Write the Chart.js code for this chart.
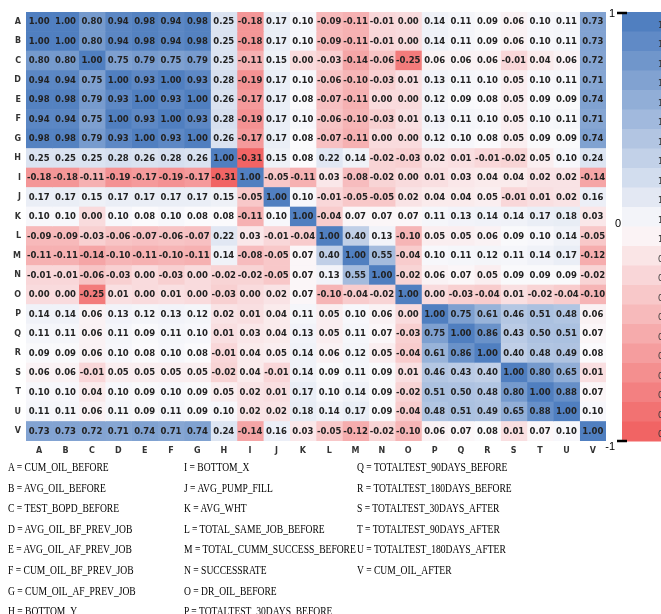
<!DOCTYPE html>
<html>
<head>
<meta charset="utf-8">
<script src="https://cdn.jsdelivr.net/npm/chart.js@4"></script>
<style>
  body { margin: 0; background: #fff; }
  #wrap { position: relative; width: 661px; height: 614px; overflow: hidden; }
  #legend { position: absolute; left: 0; top: 457px; width: 661px; }
  .col { position: absolute; top: 0; white-space: nowrap;
         font-family: "Liberation Serif", "Times New Roman", serif; font-size: 13.3px;
         line-height: 20.6px; color: #000; transform: scaleX(0.72); transform-origin: left top; }
</style>
</head>
<body>
<div id="wrap">
  <canvas id="heat" width="661" height="460"></canvas>
  <div id="legend"></div>
</div>
<script>
// Variable codes (rows and columns)
const rowLabels = ['A','B','C','D','E','F','G','H','I','J','K','L','M','N','O','P','Q','R','S','T','U','V'];
const colLabels = rowLabels;

// Variable names shown under the chart
const varNames = ['CUM_OIL_BEFORE','AVG_OIL_BEFORE','TEST_BOPD_BEFORE','AVG_OIL_BF_PREV_JOB',
  'AVG_OIL_AF_PREV_JOB','CUM_OIL_BF_PREV_JOB','CUM_OIL_AF_PREV_JOB','BOTTOM_Y','BOTTOM_X',
  'AVG_PUMP_FILL','AVG_WHT','TOTAL_SAME_JOB_BEFORE','TOTAL_CUMM_SUCCESS_BEFORE','SUCCESSRATE',
  'DR_OIL_BEFORE','TOTALTEST_30DAYS_BEFORE','TOTALTEST_90DAYS_BEFORE','TOTALTEST_180DAYS_BEFORE',
  'TOTALTEST_30DAYS_AFTER','TOTALTEST_90DAYS_AFTER','TOTALTEST_180DAYS_AFTER','CUM_OIL_AFTER'];

// Correlation values, one array per row
const rowA = [1.00,1.00,0.80,0.94,0.98,0.94,0.98,0.25,-0.18,0.17,0.10,-0.09,-0.11,-0.01,0.00,0.14,0.11,0.09,0.06,0.10,0.11,0.73];
const rowB = [1.00,1.00,0.80,0.94,0.98,0.94,0.98,0.25,-0.18,0.17,0.10,-0.09,-0.11,-0.01,0.00,0.14,0.11,0.09,0.06,0.10,0.11,0.73];
const rowC = [0.80,0.80,1.00,0.75,0.79,0.75,0.79,0.25,-0.11,0.15,0.00,-0.03,-0.14,-0.06,-0.25,0.06,0.06,0.06,-0.01,0.04,0.06,0.72];
const rowD = [0.94,0.94,0.75,1.00,0.93,1.00,0.93,0.28,-0.19,0.17,0.10,-0.06,-0.10,-0.03,0.01,0.13,0.11,0.10,0.05,0.10,0.11,0.71];
const rowE = [0.98,0.98,0.79,0.93,1.00,0.93,1.00,0.26,-0.17,0.17,0.08,-0.07,-0.11,0.00,0.00,0.12,0.09,0.08,0.05,0.09,0.09,0.74];
const rowF = [0.94,0.94,0.75,1.00,0.93,1.00,0.93,0.28,-0.19,0.17,0.10,-0.06,-0.10,-0.03,0.01,0.13,0.11,0.10,0.05,0.10,0.11,0.71];
const rowG = [0.98,0.98,0.79,0.93,1.00,0.93,1.00,0.26,-0.17,0.17,0.08,-0.07,-0.11,0.00,0.00,0.12,0.10,0.08,0.05,0.09,0.09,0.74];
const rowH = [0.25,0.25,0.25,0.28,0.26,0.28,0.26,1.00,-0.31,0.15,0.08,0.22,0.14,-0.02,-0.03,0.02,0.01,-0.01,-0.02,0.05,0.10,0.24];
const rowI = [-0.18,-0.18,-0.11,-0.19,-0.17,-0.19,-0.17,-0.31,1.00,-0.05,-0.11,0.03,-0.08,-0.02,0.00,0.01,0.03,0.04,0.04,0.02,0.02,-0.14];
const rowJ = [0.17,0.17,0.15,0.17,0.17,0.17,0.17,0.15,-0.05,1.00,0.10,-0.01,-0.05,-0.05,0.02,0.04,0.04,0.05,-0.01,0.01,0.02,0.16];
const rowK = [0.10,0.10,0.00,0.10,0.08,0.10,0.08,0.08,-0.11,0.10,1.00,-0.04,0.07,0.07,0.07,0.11,0.13,0.14,0.14,0.17,0.18,0.03];
const rowL = [-0.09,-0.09,-0.03,-0.06,-0.07,-0.06,-0.07,0.22,0.03,-0.01,-0.04,1.00,0.40,0.13,-0.10,0.05,0.05,0.06,0.09,0.10,0.14,-0.05];
const rowM = [-0.11,-0.11,-0.14,-0.10,-0.11,-0.10,-0.11,0.14,-0.08,-0.05,0.07,0.40,1.00,0.55,-0.04,0.10,0.11,0.12,0.11,0.14,0.17,-0.12];
const rowN = [-0.01,-0.01,-0.06,-0.03,0.00,-0.03,0.00,-0.02,-0.02,-0.05,0.07,0.13,0.55,1.00,-0.02,0.06,0.07,0.05,0.09,0.09,0.09,-0.02];
const rowO = [0.00,0.00,-0.25,0.01,0.00,0.01,0.00,-0.03,0.00,0.02,0.07,-0.10,-0.04,-0.02,1.00,0.00,-0.03,-0.04,0.01,-0.02,-0.04,-0.10];
const rowP = [0.14,0.14,0.06,0.13,0.12,0.13,0.12,0.02,0.01,0.04,0.11,0.05,0.10,0.06,0.00,1.00,0.75,0.61,0.46,0.51,0.48,0.06];
const rowQ = [0.11,0.11,0.06,0.11,0.09,0.11,0.10,0.01,0.03,0.04,0.13,0.05,0.11,0.07,-0.03,0.75,1.00,0.86,0.43,0.50,0.51,0.07];
const rowR = [0.09,0.09,0.06,0.10,0.08,0.10,0.08,-0.01,0.04,0.05,0.14,0.06,0.12,0.05,-0.04,0.61,0.86,1.00,0.40,0.48,0.49,0.08];
const rowS = [0.06,0.06,-0.01,0.05,0.05,0.05,0.05,-0.02,0.04,-0.01,0.14,0.09,0.11,0.09,0.01,0.46,0.43,0.40,1.00,0.80,0.65,0.01];
const rowT = [0.10,0.10,0.04,0.10,0.09,0.10,0.09,0.05,0.02,0.01,0.17,0.10,0.14,0.09,-0.02,0.51,0.50,0.48,0.80,1.00,0.88,0.07];
const rowU = [0.11,0.11,0.06,0.11,0.09,0.11,0.09,0.10,0.02,0.02,0.18,0.14,0.17,0.09,-0.04,0.48,0.51,0.49,0.65,0.88,1.00,0.10];
const rowV = [0.73,0.73,0.72,0.71,0.74,0.71,0.74,0.24,-0.14,0.16,0.03,-0.05,-0.12,-0.02,-0.10,0.06,0.07,0.08,0.01,0.07,0.10,1.00];
const matrix = [rowA,rowB,rowC,rowD,rowE,rowF,rowG,rowH,rowI,rowJ,rowK,rowL,rowM,rowN,rowO,rowP,rowQ,rowR,rowS,rowT,rowU,rowV];

// Colour bar ticks and (clipped) band labels
const barTicks = [1, 0, -1];
const bandLabels = ['1','1','1','1','1','1','1','1','1','1','1','1','0','0','0','0','0','0','0','0','0','0'];

// diverging ramp, t in [-1, 1]
function ramp(t) {
    const white = [251, 250, 252], blue = [80, 127, 192], red = [241, 100, 100];
    const end = t >= 0 ? blue : red;
    const a = Math.min(Math.abs(t), 1);
    const c = white.map((w, i) => Math.round(w + (end[i] - w) * a));
    return `rgb(${c[0]},${c[1]},${c[2]})`;
}
// cells: white sits near 0.08, full red at the matrix minimum
function cellColor(v) {
    return v >= 0.08 ? ramp((v - 0.08) / 0.92) : ramp((v - 0.08) / 0.39);
}

const datasets = colLabels.map((c, j) => ({
    label: c,
    data: rowLabels.map(() => 1),
    backgroundColor: matrix.map(row => cellColor(row[j])),
    borderWidth: 0,
    barPercentage: 1,
    categoryPercentage: 1
}));

const cellText = {
    id: 'cellText',
    afterDatasetsDraw(chart) {
        const ctx = chart.ctx;
        ctx.save();
        ctx.font = 'bold 8.5px "DejaVu Sans", Verdana, sans-serif';
        ctx.fillStyle = '#222';
        ctx.textAlign = 'center';
        ctx.textBaseline = 'middle';
        chart.data.datasets.forEach((ds, j) => {
            chart.getDatasetMeta(j).data.forEach((bar, i) => {
                ctx.fillText(matrix[i][j].toFixed(2), (bar.x + bar.base) / 2, bar.y + 0.5);
            });
        });
        ctx.restore();
    }
};

const colorBar = {
    id: 'colorBar',
    afterDraw(chart) {
        const ctx = chart.ctx;
        const area = chart.chartArea;
        const x0 = area.right + 16;
        const h = (area.bottom - area.top) / bandLabels.length;
        const yOf = v => area.top + (1 - v) / 2 * (area.bottom - area.top);
        ctx.save();
        bandLabels.forEach((lab, k) => {
            const t = 1 - (k + 0.5) * 2 / bandLabels.length;
            ctx.fillStyle = ramp(t * 1.05);
            ctx.fillRect(x0, area.top + k * h, 60, h + 0.5);
            ctx.fillStyle = '#333';
            ctx.font = '8px "DejaVu Sans", sans-serif';
            ctx.textAlign = 'left';
            ctx.textBaseline = 'middle';
            ctx.fillText(lab, x0 + 36, area.top + k * h + h / 2 + 4);
        });
        ctx.fillStyle = '#000';
        ctx.strokeStyle = '#000';
        ctx.lineWidth = 2.5;
        ctx.font = '11px "Liberation Sans", Arial, sans-serif';
        ctx.textBaseline = 'middle';
        barTicks.forEach(v => {
            const y = yOf(v);
            if (v !== 0) {
                ctx.beginPath();
                ctx.moveTo(x0 - 5, y + (v > 0 ? 1 : 0));
                ctx.lineTo(x0 + 5, y + (v > 0 ? 1 : 0));
                ctx.stroke();
                ctx.textAlign = 'right';
                ctx.fillText(String(v), x0 - 7, y + (v > 0 ? 2 : 6));
            } else {
                ctx.textAlign = 'center';
                ctx.fillText(String(v), x0 - 4, y - 3);
            }
        });
        ctx.restore();
    }
};

new Chart(document.getElementById('heat'), {
    type: 'bar',
    data: { labels: rowLabels, datasets: datasets },
    options: {
        indexAxis: 'y',
        responsive: false,
        animation: false,
        devicePixelRatio: 1,
        layout: { padding: { top: 12, right: 55, left: 0, bottom: 0 } },
        scales: {
            x: {
                type: 'linear',
                stacked: true,
                min: 0,
                max: colLabels.length,
                grid: { display: false, drawTicks: false },
                border: { display: false },
                afterBuildTicks: axis => { axis.ticks = colLabels.map((c, i) => ({ value: i + 0.5 })); },
                afterFit: s => { s.height = 19; },
                ticks: {
                    autoSkip: false,
                    maxRotation: 0,
                    padding: 5,
                    color: '#333',
                    font: { family: '"DejaVu Sans", sans-serif', size: 8, weight: 'bold' },
                    callback: (v, i) => colLabels[i]
                }
            },
            y: {
                stacked: true,
                grid: { display: false, drawTicks: false },
                border: { display: false },
                afterFit: s => { s.width = 26; },
                ticks: {
                    padding: 5,
                    color: '#333',
                    font: { family: '"DejaVu Sans", sans-serif', size: 8, weight: 'bold' }
                }
            }
        },
        plugins: {
            legend: { display: false },
            tooltip: {
                callbacks: {
                    label: item => rowLabels[item.dataIndex] + ' / ' + item.dataset.label + ': ' +
                        matrix[item.dataIndex][item.datasetIndex].toFixed(2)
                }
            }
        }
    },
    plugins: [cellText, colorBar]
});

// Variable key below the chart
const legend = document.getElementById('legend');
const groups = [[0, 8, 8], [8, 16, 184], [16, 22, 357]];
groups.forEach(([from, to, left]) => {
    const col = document.createElement('div');
    col.className = 'col';
    col.style.left = left + 'px';
    col.innerHTML = rowLabels.slice(from, to)
        .map((c, k) => c + ' = ' + varNames[from + k]).join('<br>');
    legend.appendChild(col);
});
</script>
</body>
</html>
